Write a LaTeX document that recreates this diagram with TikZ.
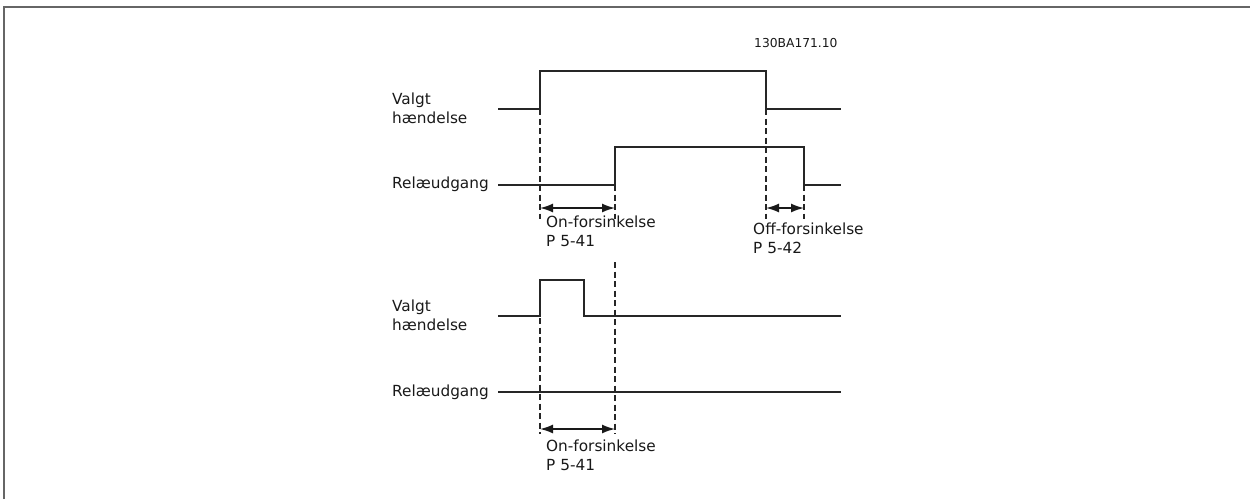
\documentclass[tikz,border=0pt]{standalone}
\usepackage{fontspec}
\setmainfont{DejaVu Sans}
\usetikzlibrary{arrows.meta}
\tikzset{
  sig/.style={line width=1.8pt, black!85},
  guide/.style={line width=1.3pt, black!85, dash pattern=on 6pt off 3.5pt},
  span/.style={line width=1.6pt, black!90, {Latex[length=13pt,width=9pt]}-{Latex[length=13pt,width=9pt]}},
  lbl/.style={anchor=base west, inner sep=0pt, align=left, font=\fontsize{15.3}{18.5}\selectfont, text=black!90},
  code/.style={anchor=base west, inner sep=0pt, font=\fontsize{12.3}{14}\selectfont, text=black!90},
  frame/.style={line width=1.6pt, black!60}
}
\begin{document}
\begin{tikzpicture}[x=1pt,y=-1pt]
\useasboundingbox (0,0) rectangle (1250,499);
\draw[frame] (4,499) -- (4,7) -- (1250,7);
\node[code] (code) at (754,47) {130BA171.10};
% ---------- top diagram ----------
\node[lbl] (v1) at (392,123) {Valgt\\hændelse};
\node[lbl] (r1) at (392,188) {Relæudgang};
\coordinate (a0) at (498,109);
\coordinate (a1) at (540,109);
\coordinate (a2) at (540,71);
\coordinate (a3) at (766,71);
\coordinate (a4) at (766,109);
\coordinate (a5) at (841,109);
\draw[sig] (a0) -- (a1) -- (a2) -- (a3) -- (a4) -- (a5);
\coordinate (b0) at (498,185);
\coordinate (b1) at (615,185);
\coordinate (b2) at (615,147);
\coordinate (b3) at (804,147);
\coordinate (b4) at (804,185);
\coordinate (b5) at (841,185);
\draw[sig] (b0) -- (b1) -- (b2) -- (b3) -- (b4) -- (b5);
\coordinate (d1) at (540,219);
\coordinate (d2) at (615,219);
\coordinate (d3) at (766,219);
\coordinate (d4) at (804,219);
\draw[guide] (a2) -- (d1);
\draw[guide] (b2) -- (d2);
\draw[guide] (a4) -- (d3);
\draw[guide] (b4) -- (d4);
\coordinate (e1) at (540,208);
\coordinate (e2) at (615,208);
\coordinate (e3) at (766,208);
\coordinate (e4) at (804,208);
\draw[span] (e1) -- (e2);
\draw[span] (e3) -- (e4);
\node[lbl] (on1) at (546,246) {On-forsinkelse\\P 5-41};
\node[lbl] (off1) at (753,253) {Off-forsinkelse\\P 5-42};
% ---------- bottom diagram ----------
\node[lbl] (v2) at (392,330) {Valgt\\hændelse};
\node[lbl] (r2) at (392,396) {Relæudgang};
\coordinate (c0) at (498,316);
\coordinate (c1) at (540,316);
\coordinate (c2) at (540,280);
\coordinate (c3) at (584,280);
\coordinate (c4) at (584,316);
\coordinate (c5) at (841,316);
\draw[sig] (c0) -- (c1) -- (c2) -- (c3) -- (c4) -- (c5);
\coordinate (f0) at (498,392);
\coordinate (f1) at (841,392);
\draw[sig] (f0) -- (f1);
\coordinate (g0) at (615,262);
\coordinate (g1) at (540,434);
\coordinate (g2) at (615,434);
\draw[guide] (c2) -- (g1);
\draw[guide] (g0) -- (g2);
\coordinate (h1) at (540,429);
\coordinate (h2) at (615,429);
\draw[span] (h1) -- (h2);
\node[lbl] (on2) at (546,470) {On-forsinkelse\\P 5-41};
\end{tikzpicture}
\end{document}
